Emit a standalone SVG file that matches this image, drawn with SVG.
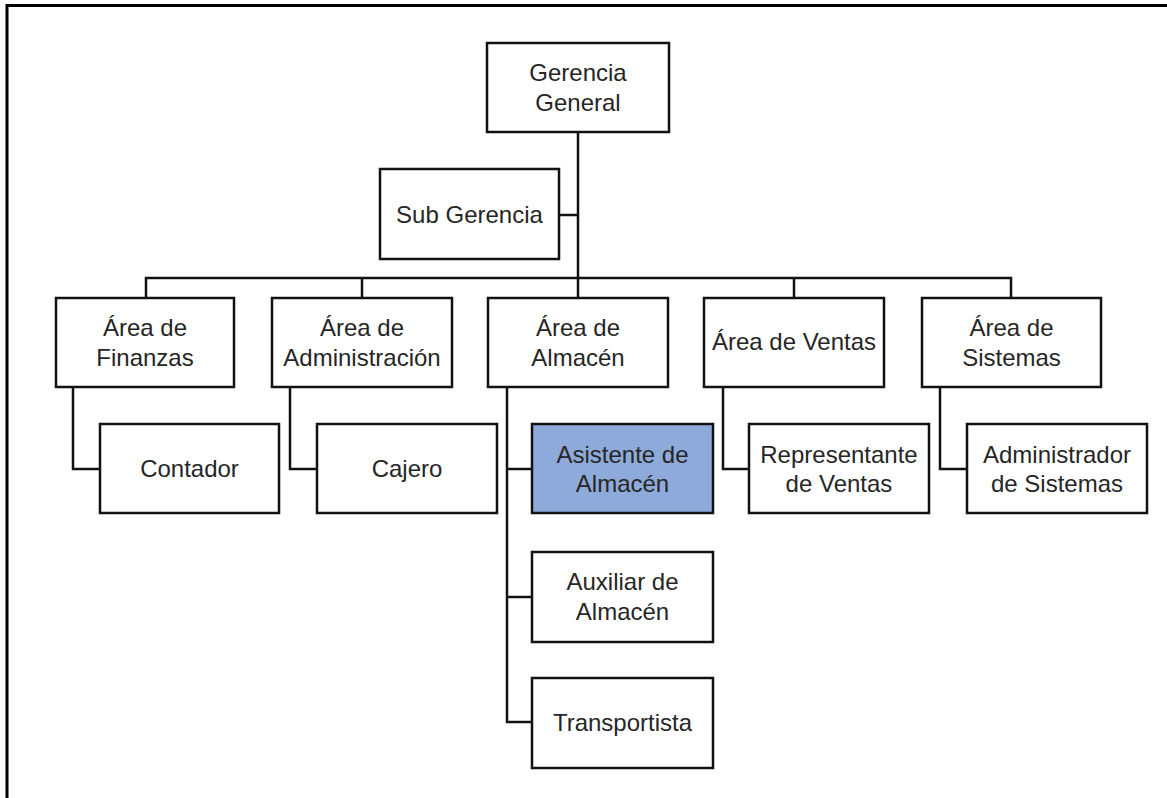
<svg xmlns="http://www.w3.org/2000/svg" width="1167" height="798" viewBox="0 0 1167 798">
  <style>
    .box { fill: #ffffff; stroke: #111111; stroke-width: 2.5; }
    .hl { fill: #8EAADB; }
    .lbl { font-family: "Liberation Sans", Arial, sans-serif; font-size: 24px; fill: #262626; text-anchor: middle; }
    .wire { fill: none; stroke: #111111; stroke-width: 2.5; }
    .frame { fill: none; stroke: #000000; stroke-width: 3; }
  </style>
  <rect width="1167" height="798" fill="#ffffff"/>
  <!-- page frame: top and left edges -->
  <path class="frame" d="M7,798 V5.5 H1167"/>

  <g id="connectors">
    <path class="wire" d="M578,132 V298"/>
    <path class="wire" d="M559,215 H578"/>
    <path class="wire" d="M146,298 V278 H1011 V298"/>
    <path class="wire" d="M362,278 V298"/>
    <path class="wire" d="M794,278 V298"/>
    <path class="wire" d="M73,387 V469 H100"/>
    <path class="wire" d="M290,387 V469 H317"/>
    <path class="wire" d="M507,387 V722 H532"/>
    <path class="wire" d="M507,469 H532"/>
    <path class="wire" d="M507,597 H532"/>
    <path class="wire" d="M723,387 V469 H749"/>
    <path class="wire" d="M940,387 V469 H967"/>
  </g>

  <g id="gerencia-general">
    <rect class="box" x="487" y="43" width="182" height="89"/>
    <text class="lbl" x="578" y="81">Gerencia</text>
    <text class="lbl" x="578" y="111">General</text>
  </g>
  <g id="sub-gerencia">
    <rect class="box" x="380" y="169" width="179" height="90"/>
    <text class="lbl" x="469.5" y="222.5">Sub Gerencia</text>
  </g>

  <g id="area-finanzas">
    <rect class="box" x="56" y="298" width="178" height="89"/>
    <text class="lbl" x="145" y="336">Área de</text>
    <text class="lbl" x="145" y="366">Finanzas</text>
  </g>
  <g id="area-administracion">
    <rect class="box" x="272" y="298" width="180" height="89"/>
    <text class="lbl" x="362" y="336">Área de</text>
    <text class="lbl" x="362" y="366">Administración</text>
  </g>
  <g id="area-almacen">
    <rect class="box" x="488" y="298" width="180" height="89"/>
    <text class="lbl" x="578" y="336">Área de</text>
    <text class="lbl" x="578" y="366">Almacén</text>
  </g>
  <g id="area-ventas">
    <rect class="box" x="704" y="298" width="180" height="89"/>
    <text class="lbl" x="794" y="350">Área de Ventas</text>
  </g>
  <g id="area-sistemas">
    <rect class="box" x="922" y="298" width="179" height="89"/>
    <text class="lbl" x="1011.5" y="336">Área de</text>
    <text class="lbl" x="1011.5" y="366">Sistemas</text>
  </g>

  <g id="contador">
    <rect class="box" x="100" y="424" width="179" height="89"/>
    <text class="lbl" x="189.5" y="477">Contador</text>
  </g>
  <g id="cajero">
    <rect class="box" x="317" y="424" width="180" height="89"/>
    <text class="lbl" x="407" y="477">Cajero</text>
  </g>
  <g id="asistente-almacen">
    <rect class="box hl" x="532" y="424" width="181" height="89"/>
    <text class="lbl" x="622.5" y="463">Asistente de</text>
    <text class="lbl" x="622.5" y="492">Almacén</text>
  </g>
  <g id="representante-ventas">
    <rect class="box" x="749" y="424" width="180" height="89"/>
    <text class="lbl" x="839" y="463">Representante</text>
    <text class="lbl" x="839" y="492">de Ventas</text>
  </g>
  <g id="administrador-sistemas">
    <rect class="box" x="967" y="424" width="180" height="89"/>
    <text class="lbl" x="1057" y="463">Administrador</text>
    <text class="lbl" x="1057" y="492">de Sistemas</text>
  </g>

  <g id="auxiliar-almacen">
    <rect class="box" x="532" y="552" width="181" height="90"/>
    <text class="lbl" x="622.5" y="590">Auxiliar de</text>
    <text class="lbl" x="622.5" y="620">Almacén</text>
  </g>
  <g id="transportista">
    <rect class="box" x="532" y="678" width="181" height="90"/>
    <text class="lbl" x="622.5" y="731">Transportista</text>
  </g>
</svg>
